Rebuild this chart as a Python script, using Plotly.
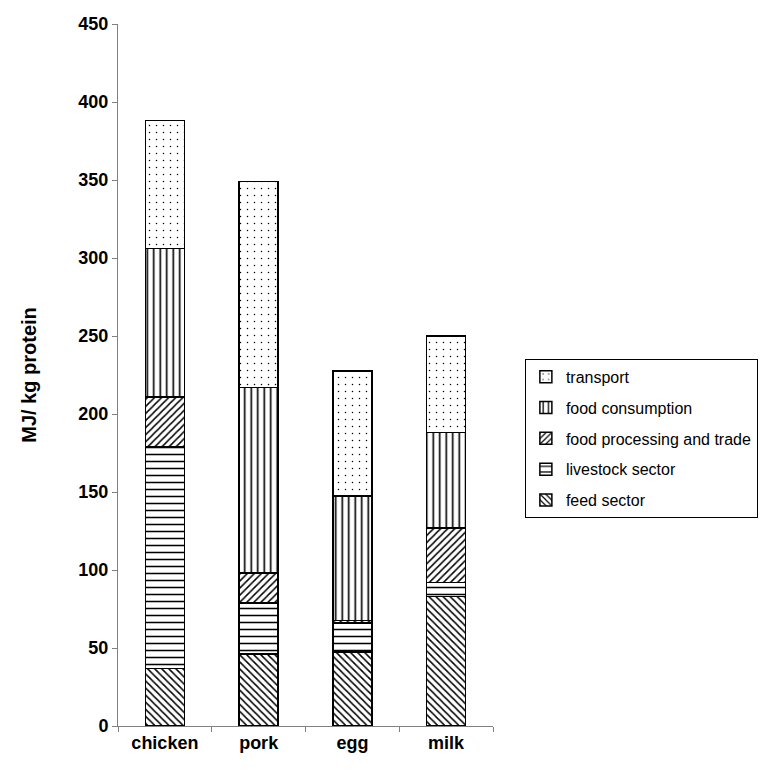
import plotly.graph_objects as go

categories = ["chicken", "pork", "egg", "milk"]
feed_sector = [37, 46, 47.5, 83]
livestock_sector = [142, 33, 18.5, 9]
food_processing = [32, 19, 1.5, 35]
food_consumption = [95, 119, 80, 61]
transport = [82, 132, 80, 62]

series = [
    ("feed sector", feed_sector, "\\", 5, 0.3),
    ("livestock sector", livestock_sector, "-", 7, 0.22),
    ("food processing and trade", food_processing, "/", 5, 0.3),
    ("food consumption", food_consumption, "|", 6.5, 0.25),
    ("transport", transport, ".", 7, 0.035),
]

FONT = "Liberation Sans, Arial, sans-serif"

fig = go.Figure()
for i, (name, vals, shape, size, sol) in enumerate(series):
    fig.add_trace(go.Bar(
        x=categories, y=vals, name=name, width=0.415, legendgroup=name,
        legendrank=1000 - i,
        marker=dict(color="white",
                    line=dict(color="black", width=1.5),
                    pattern=dict(shape=shape, fgcolor="black", bgcolor="white",
                                 size=size, solidity=sol, fillmode="replace")),
    ))

fig.update_layout(
    barmode="stack",
    width=780, height=778,
    margin=dict(l=118, r=287, t=24, b=52),
    paper_bgcolor="white", plot_bgcolor="white",
    font=dict(family=FONT, color="black"),
    showlegend=True,
    legend=dict(x=1.085, y=0.523, xanchor="left", yanchor="top",
                traceorder="grouped", tracegroupgap=7,
                bordercolor="black", borderwidth=1, itemwidth=30,
                font=dict(size=16, family=FONT),
                bgcolor="white"),
)
fig.update_yaxes(range=[0, 450], dtick=50, showgrid=False, zeroline=False,
                 showline=True, linecolor="#808080", linewidth=1,
                 ticks="outside", ticklen=5, tickcolor="#808080",
                 tickfont=dict(size=18, family=FONT, weight="bold"),
                 title=dict(text="MJ/ kg protein", standoff=36,
                            font=dict(size=20, family=FONT, weight="bold")))
fig.update_xaxes(showgrid=False, showline=True, linecolor="#808080", linewidth=1,
                 ticks="outside", ticklen=5, tickcolor="#808080", tickson="boundaries",
                 range=[-0.5, 3.5],
                 tickfont=dict(size=18, family=FONT, weight="bold"))

fig.write_html("out.html")
